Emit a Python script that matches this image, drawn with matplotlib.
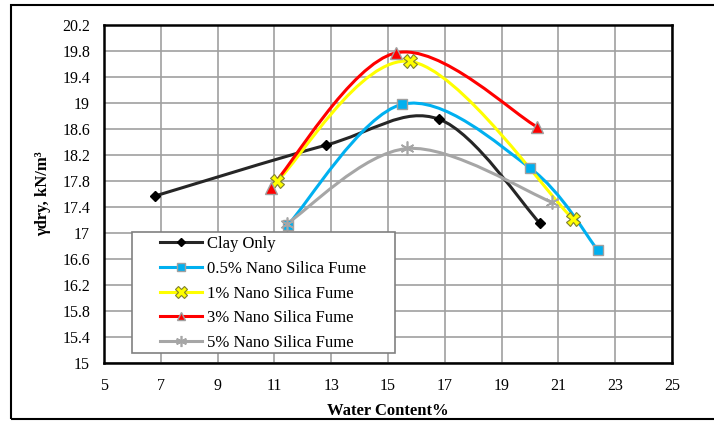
import matplotlib
matplotlib.use('Agg')
import matplotlib.pyplot as plt
from matplotlib.path import Path
from matplotlib.patches import PathPatch, Rectangle
from matplotlib.lines import Line2D

plt.rcParams['font.family'] = ['Liberation Serif', 'DejaVu Serif']

# water content (%) and dry unit weight (kN/m3)
clay_x = [6.8, 12.8, 16.8, 20.35]
clay_y = [17.57, 18.35, 18.75, 17.15]
ns05_x = [11.47, 15.5, 20.0, 22.38]
ns05_y = [17.12, 18.98, 18.0, 16.74]
ns1_x = [11.1, 15.77, 21.5]
ns1_y = [17.8, 19.64, 17.22]
ns3_x = [10.87, 15.27, 20.26]
ns3_y = [17.69, 19.77, 18.63]
ns5_x = [11.43, 15.68, 20.79]
ns5_y = [17.14, 18.3, 17.47]

labels = ['Clay Only', '0.5% Nano Silica Fume', '1% Nano Silica Fume',
          '3% Nano Silica Fume', '5% Nano Silica Fume']
xticks = [5, 7, 9, 11, 13, 15, 17, 19, 21, 23, 25]
yticks = [15, 15.4, 15.8, 16.2, 16.6, 17, 17.4, 17.8, 18.2, 18.6, 19, 19.4, 19.8, 20.2]


def smooth_path(xs, ys):
    # Excel-style smoothed line: Catmull-Rom through the points as cubic Beziers
    pts = list(zip(xs, ys))
    n = len(pts)
    verts = [pts[0]]
    codes = [Path.MOVETO]
    for i in range(n - 1):
        p0 = pts[i - 1] if i > 0 else pts[i]
        p1 = pts[i]
        p2 = pts[i + 1]
        p3 = pts[i + 2] if i + 2 < n else pts[i + 1]
        c1 = (p1[0] + (p2[0] - p0[0]) / 6, p1[1] + (p2[1] - p0[1]) / 6)
        c2 = (p2[0] - (p3[0] - p1[0]) / 6, p2[1] - (p3[1] - p1[1]) / 6)
        verts += [c1, c2, p2]
        codes += [Path.CURVE4] * 3
    return Path(verts, codes)


fig = plt.figure(figsize=(7.14, 4.21), dpi=100)
fig.patches.append(Rectangle((11 / 714, 2 / 421), 1.0, 414 / 421, transform=fig.transFigure,
                             fill=False, edgecolor='black', linewidth=1.5))
ax = fig.add_axes([104 / 714, 58 / 421, 568 / 714, 338 / 421])

series = [
    (clay_x, clay_y, dict(color='#262626', marker='D', ms=5, mfc='black', mec='black')),
    (ns05_x, ns05_y, dict(color='#00B0F0', marker='s', ms=7, mfc='#00B0F0', mec='#A0A0A0')),
    (ns1_x, ns1_y, dict(color='#FFFF00', marker='X', ms=10, mfc='#FFFF00', mec='#7F7F30', mew=0.8)),
    (ns3_x, ns3_y, dict(color='#FF0000', marker='^', ms=8, mfc='#FF0000', mec='#A0A0A0')),
    (ns5_x, ns5_y, dict(color='#A6A6A6', marker=(6, 2, 0), ms=10, mfc='#A6A6A6', mec='#A6A6A6', mew=1.2)),
]

handles = []
for (xs, ys, st), lab in zip(series, labels):
    ax.add_patch(PathPatch(smooth_path(xs, ys), fill=False, edgecolor=st['color'],
                           linewidth=2.2, capstyle='round', zorder=3))
    ax.plot(xs, ys, linestyle='none', marker=st['marker'], markersize=st['ms'],
            markerfacecolor=st['mfc'], markeredgecolor=st['mec'],
            markeredgewidth=st.get('mew', 1.0), zorder=4)
    handles.append(Line2D([], [], color=st['color'], linewidth=2.2, marker=st['marker'],
                          markersize=st['ms'] * 0.8, markerfacecolor=st['mfc'],
                          markeredgecolor=st['mec'], markeredgewidth=st.get('mew', 1.0)))

ax.set_xlim(5, 25)
ax.set_ylim(15, 20.2)
ax.set_xticks(xticks)
ax.set_xticklabels([str(v) for v in xticks])
ax.set_yticks(yticks)
ax.set_yticklabels([f'{v:g}' for v in yticks])
ax.tick_params(axis='x', length=0, labelsize=11.5, pad=11)
ax.tick_params(axis='y', length=0, labelsize=11.5, pad=10)
ax.grid(True, color='#A0A0A0', linewidth=1.2)
ax.set_axisbelow(True)
for sp in ax.spines.values():
    sp.set_linewidth(1.8)
    sp.set_color('black')

ax.set_xlabel('Water Content%', fontsize=12, fontweight='bold', labelpad=6)
ax.set_ylabel('γdry, kN/m³', fontsize=12, fontweight='bold', labelpad=8)

# legend box drawn separately so the side padding can be wider than the top/bottom
ax.add_patch(Rectangle((0.049, 0.03), 0.463, 0.358, transform=ax.transAxes,
                       facecolor='white', edgecolor='#808080', linewidth=1.2, zorder=5))
leg = ax.legend(handles=handles, labels=labels, loc='upper left',
                bbox_to_anchor=(0.0986, 0.375), fontsize=12, frameon=False,
                handlelength=2.5, handletextpad=0.3, labelspacing=0.52,
                borderpad=0, borderaxespad=0)
leg.set_zorder(6)

plt.savefig('out.png', dpi=100)
